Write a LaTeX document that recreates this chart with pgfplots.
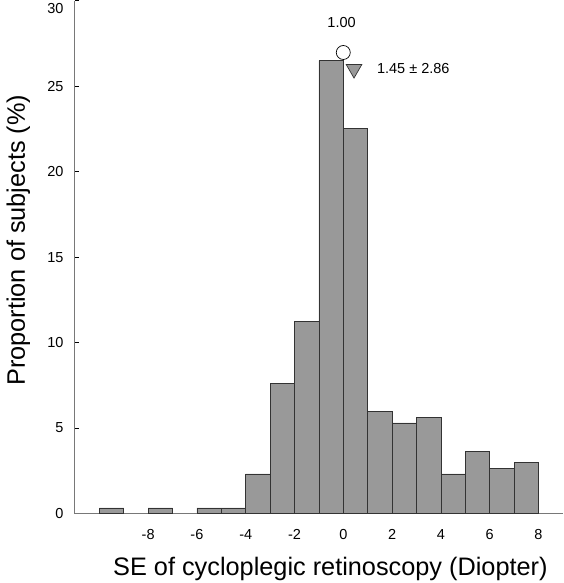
\documentclass[border=0pt]{standalone}
\usepackage{fontspec}
\setmainfont{Liberation Sans}
\usepackage{pgfplots}
\pgfplotsset{compat=1.18}
\usetikzlibrary{calc}
\definecolor{barfill}{RGB}{153,153,153}
\definecolor{axgray}{RGB}{120,120,120}
\begin{document}
\begin{tikzpicture}
\begin{axis}[
 scale only axis, width=488pt, height=513pt,
 xmin=-11, xmax=9, ymin=0, ymax=30,
 axis x line*=bottom, axis y line*=left,
 axis line style={-, draw=axgray, line width=1pt},
 xtick={-8,-6,...,8}, ytick={0,5,...,25},
 extra y ticks={30},
 extra y tick style={yticklabel style={yshift=-8pt}},
 tick align=inside, major tick length=4pt, tick style={black, line width=0.6pt},
 /pgf/number format/assume math mode=true,
 ticklabel style={font=\fontsize{14.5}{17}\selectfont},
 xticklabel style={yshift=-12pt},
 yticklabel style={xshift=-8pt},
 xlabel={SE of cycloplegic retinoscopy (Diopter)},
 ylabel={Proportion of subjects (\%)},
 label style={font=\fontsize{25.3}{30}\selectfont},
 xlabel style={at={(axis description cs:0.5236,-0.12)}, anchor=base},
 ylabel style={at={(axis description cs:-0.1475,0.533)}, anchor=north},
 clip=false,
]
\addplot[ybar, bar width=1, fill=barfill, draw=black!80, line width=0.7pt] coordinates {
(-9.5,0.33) (-7.5,0.33) (-5.5,0.33) (-4.5,0.33) (-3.5,2.32) (-2.5,7.62)
(-1.5,11.26) (-0.5,26.49) (0.5,22.52) (1.5,5.96) (2.5,5.30) (3.5,5.63)
(4.5,2.32) (5.5,3.64) (6.5,2.65) (7.5,2.98)
};
\addplot[only marks, mark=*, mark size=7pt, mark options={fill=white, draw=black, line width=0.7pt}] coordinates {(0,26.97)};
\addplot[only marks, mark=triangle*, mark size=9pt, mark options={rotate=180, fill=barfill, draw=black!80, line width=0.7pt}] coordinates {(0.44,26.0)};
\node at (axis cs:-0.07,28.7) {\fontsize{14.5}{17}\selectfont 1.00};
\node at (axis cs:2.87,26.06) {\fontsize{14.5}{17}\selectfont 1.45 ± 2.86};
\end{axis}
\pgfresetboundingbox
\path[use as bounding box] ($(current axis.south west)+(-75pt,-69.5pt)$) rectangle ($(current axis.north east)+(1pt,0.7pt)$);
\end{tikzpicture}
\end{document}
